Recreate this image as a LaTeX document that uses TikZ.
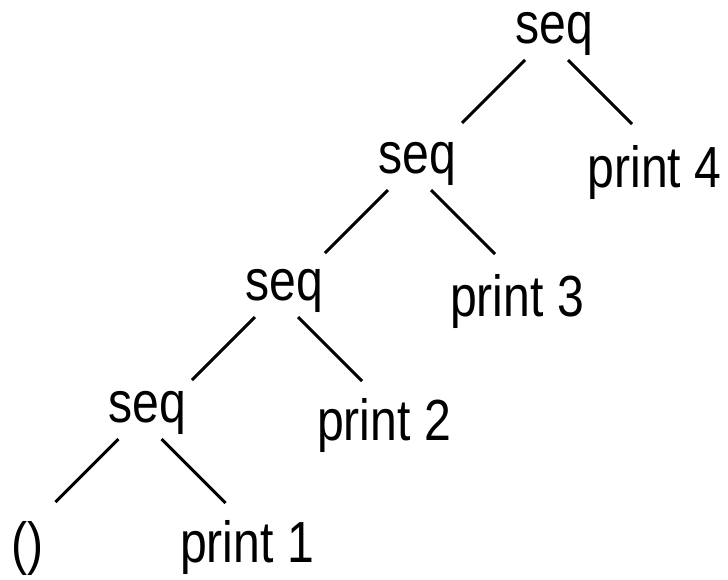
\documentclass[tikz,border=0pt]{standalone}
\usepackage{fontspec}
\setmainfont[FakeStretch=0.83]{Liberation Sans}
\usepackage{tikz}
\usetikzlibrary{positioning}

\begin{document}
\begin{tikzpicture}[
            x=1pt, y=-1pt,
            term/.style={inner sep=0pt, anchor=base, font=\fontsize{58}{62}\selectfont},
            edge/.style={draw, line width=3pt, -},
        ]
            \useasboundingbox (0,0) rectangle (728,579);

            % Nodos seq
            \node[term] (seq_a) at (554,43) {seq};
            \node[term] (seq_b) at (417,173) {seq};
            \node[term] (seq_c) at (284,300) {seq};
            \node[term] (seq_d) at (147.5,422) {seq};

            % Hojas
            \node[term] (print_4) at (654.5,187) {print 4};
            \node[term] (print_3) at (517,316) {print 3};
            \node[term] (print_2) at (384,440) {print 2};
            \node[term] (print_1) at (247,562) {print 1};
            \node[term] (vacio) at (28,563) {()};

            % Conexiones
            \draw[edge] ([shift={(-29,17)}]seq_a.base) -- ([shift={(45,-50)}]seq_b.base);
            \draw[edge] ([shift={(14,17)}]seq_a.base) -- ([shift={(-22.5,-63)}]print_4.base);
            \draw[edge] ([shift={(-29,17)}]seq_b.base) -- ([shift={(41,-47)}]seq_c.base);
            \draw[edge] ([shift={(14,17)}]seq_b.base) -- ([shift={(-22,-62)}]print_3.base);
            \draw[edge] ([shift={(-29,17)}]seq_c.base) -- ([shift={(44.5,-42)}]seq_d.base);
            \draw[edge] ([shift={(14,17)}]seq_c.base) -- ([shift={(-22,-59)}]print_2.base);
            \draw[edge] ([shift={(-29,17)}]seq_d.base) -- ([shift={(27.5,-61)}]vacio.base);
            \draw[edge] ([shift={(14,17)}]seq_d.base) -- ([shift={(-21.5,-59)}]print_1.base);
        \end{tikzpicture}
\end{document}
